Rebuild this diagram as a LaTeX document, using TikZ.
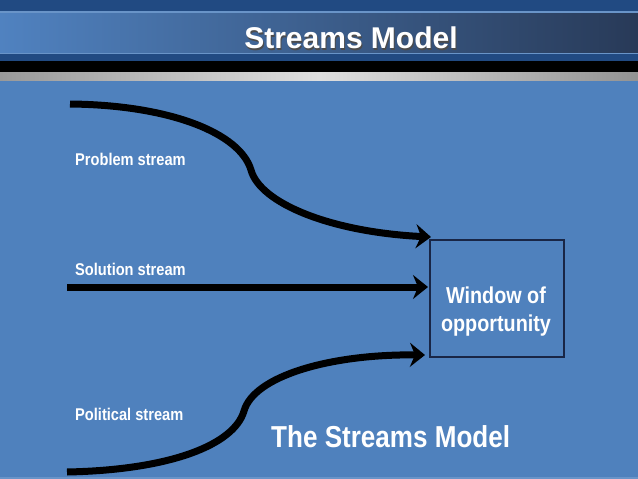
\documentclass[tikz,border=0pt]{standalone}
\usepackage{fontspec}
\setmainfont{Liberation Sans}
\newfontfamily\titlefont{Liberation Sans Bold}
\newfontfamily\narrowbold{Liberation Sans Bold}[FakeStretch=0.86]
\usetikzlibrary{arrows.meta}
\definecolor{bgblue}{RGB}{79,129,189}
\definecolor{topband}{RGB}{33,74,130}
\definecolor{gradleft}{RGB}{80,130,192}
\definecolor{gradright}{RGB}{40,58,88}
\definecolor{sepline}{RGB}{105,148,200}
\definecolor{boxline}{RGB}{25,38,70}
\tikzset{
  stream/.style={line width=7pt, black, line cap=butt,
    -{Stealth[length=15pt,width=24pt,inset=5pt]}},
  streamlabel/.style={anchor=base west, inner sep=0pt, text=white,
    font=\narrowbold\fontsize{17}{20}\selectfont},
  windowbox/.style={draw=boxline, line width=2pt, fill=none},
  boxtext/.style={align=center, inner sep=0pt, text=white,
    font=\narrowbold\fontsize{23}{28}\selectfont},
  bigtext/.style={anchor=base west, inner sep=0pt, text=white,
    font=\narrowbold\fontsize{30.3}{35}\selectfont},
  titletext/.style={anchor=base, inner sep=0pt,
    font=\titlefont\fontsize{30}{34}\selectfont}
}
\begin{document}
\begin{tikzpicture}[x=1pt,y=-1pt]
\useasboundingbox (0,0) rectangle (638,479);
% background
\fill[bgblue] (0,0) rectangle (638,479);
% header
\fill[topband] (0,0) rectangle (638,12);
\shade[left color=gradleft, right color=gradright] (0,12) rectangle (638,53);
\fill[sepline] (0,11) rectangle (638,12.5);
\fill[sepline] (0,52.5) rectangle (638,54);
\fill[topband] (0,54) rectangle (638,61);
\fill[black] (0,61) rectangle (638,72);
\shade[left color=gray!80, right color=gray!85, middle color=gray!25] (0,72) rectangle (638,80);
\fill[sepline] (0,476.5) rectangle (638,479);
% title
\node[titletext, text=black!70] (titleshadow) at (352,50) {Streams Model};
\node[titletext, text=white] (title) at (351,48.5) {Streams Model};
% window box
\node[windowbox, minimum width=134pt, minimum height=117pt, anchor=north west] (win) at (429,239) {};
\node[boxtext] (wintext) at (496,312) {Window of\\opportunity};
% coordinates
\coordinate (pstart) at (70,104);
\coordinate (pmid) at (251,170);
\coordinate (pend) at (431,237);
\coordinate (sstart) at (67,287);
\coordinate (send) at (428,287);
\coordinate (qstart) at (67,472);
\coordinate (qmid) at (244,411);
\coordinate (qend) at (425,355);
% streams
\draw[stream] (pstart) .. controls (170,105) and (240,133) .. (pmid)
  .. controls (260,203) and (330,232) .. (pend);
\draw[stream] (sstart) -- (send);
\draw[stream] (qstart) .. controls (170,470) and (234,445) .. (qmid)
  .. controls (254,376) and (330,354) .. (qend);
% labels
\node[streamlabel] (plabel) at (75,165) {Problem stream};
\node[streamlabel] (slabel) at (75,275) {Solution stream};
\node[streamlabel] (qlabel) at (75,420) {Political stream};
\node[bigtext] (model) at (271,447) {The Streams Model};
\end{tikzpicture}
\end{document}
